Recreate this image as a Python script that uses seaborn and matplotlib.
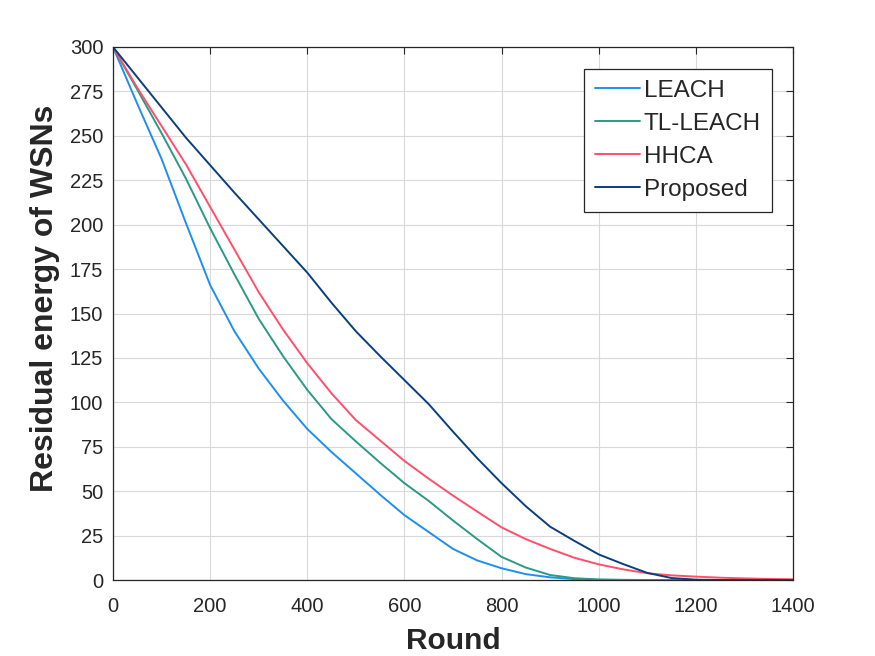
import numpy as np
import pandas as pd
import seaborn as sns
import matplotlib
matplotlib.use("Agg")
import matplotlib.pyplot as plt

rounds = list(range(0, 1401, 50))

leach = [300, 268, 237, 201, 166, 140, 119, 101, 85, 72,
         60, 48, 36.5, 27, 17.5, 11, 6.6, 3.3, 1.5, 0.5,
         0.1, 0, 0, 0, 0, 0, 0, 0, 0]
tl_leach = [300, 276, 251.5, 226, 198, 172, 147, 126, 107, 90.5,
            78, 66, 54.5, 44.5, 33.5, 23, 13, 7, 2.8, 1,
            0.3, 0.1, 0, 0, 0, 0, 0, 0, 0]
hhca = [300, 277, 255.5, 234, 210, 186, 162, 141, 122, 105,
        90, 78.5, 67, 57, 47.5, 38.5, 29.6, 23, 17.5, 12.5,
        8.8, 6, 3.8, 2.6, 1.9, 1.3, 0.9, 0.6, 0.4]
proposed = [300, 283, 266, 249, 233.5, 218, 203, 188, 173, 156,
            140, 126, 112.5, 99, 83.5, 68.5, 54.5, 41.5, 30, 22,
            14.4, 9, 4, 1.1, 0.2, 0, 0, 0, 0]

series = {"LEACH": leach, "TL-LEACH": tl_leach, "HHCA": hhca, "Proposed": proposed}
colors = {"LEACH": "#1e8ff0", "TL-LEACH": "#2a9a86", "HHCA": "#ff4f6b", "Proposed": "#0b3e7e"}

df = pd.concat(
    [pd.DataFrame({"Round": rounds, "Energy": v, "Method": k}) for k, v in series.items()],
    ignore_index=True,
)

sns.set_theme(style="white")
plt.rcParams["font.family"] = ["Liberation Sans", "DejaVu Sans"]

fig = plt.figure(figsize=(8.75, 6.56), dpi=100)
ax = fig.add_axes([113 / 875, 1 - 580 / 656, 680 / 875, 533 / 656])

sns.lineplot(data=df, x="Round", y="Energy", hue="Method", palette=colors,
             linewidth=1.4, ax=ax, legend=True)

ax.set_xlim(0, 1400)
ax.set_ylim(0, 300)
ax.set_xticks(np.arange(0, 1401, 200))
ax.set_yticks(np.arange(0, 301, 25))
ax.grid(True, color="#d9d9d9", linewidth=0.8)
ax.tick_params(direction="in", length=5, width=0.8, colors="#262626",
               labelsize=14.5, top=True, right=True, pad=7)
ax.tick_params(axis="x", pad=12)
for sp in ax.spines.values():
    sp.set_color("#262626")
    sp.set_linewidth(0.9)

ax.set_xlabel("Round", fontsize=21.5, fontweight="bold", color="#262626", labelpad=8)
ax.set_ylabel("Residual energy of WSNs", fontsize=23, fontweight="bold",
              color="#262626")
ax.yaxis.set_label_coords(-0.078, 0.529)

leg = ax.legend(loc="upper right", bbox_to_anchor=(1 - 21 / 680, 1 - 22 / 533),
                fontsize=17.5, frameon=True, fancybox=False, handlelength=1.85,
                handletextpad=0.15, borderpad=0.45, labelspacing=0.45,
                borderaxespad=0)
leg.get_frame().set_edgecolor("#262626")
leg.get_frame().set_linewidth(0.9)
leg.get_frame().set_alpha(1)
for line in leg.get_lines():
    line.set_linewidth(1.4)

fig.savefig("out.png", dpi=100, facecolor="white")
